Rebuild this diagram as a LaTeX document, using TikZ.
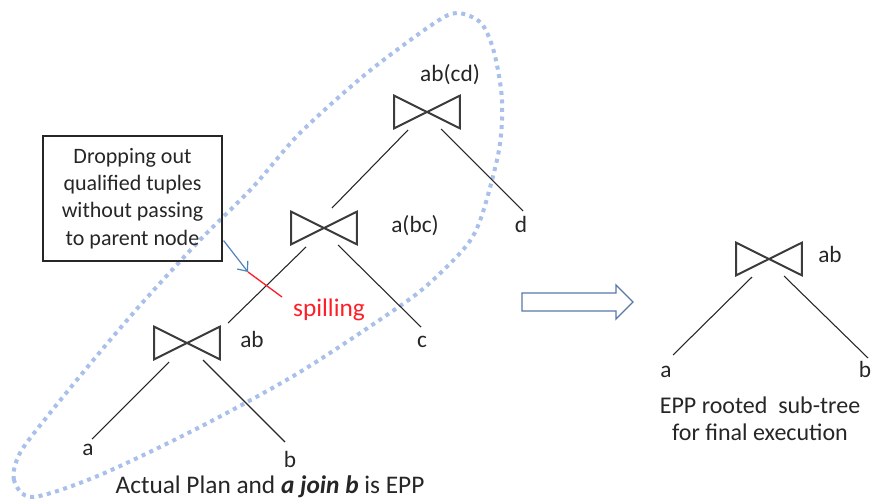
\documentclass[tikz,border=0pt]{standalone}
\usepackage{fontspec}
\setmainfont{Carlito}
\usepackage{tikz}
\usetikzlibrary{arrows.meta}
\definecolor{dotblue}{RGB}{168,192,234}
\definecolor{arrowblue}{RGB}{79,129,189}
\definecolor{blockblue}{RGB}{88,120,172}
\definecolor{spillred}{RGB}{255,30,40}
\definecolor{ink}{RGB}{38,38,38}
\newcommand{\lblfont}{\fontsize{17.5}{20}\selectfont}
\newcommand{\capfont}{\fontsize{18}{20.5}\selectfont}

\tikzset{
  joinop/.style={minimum width=48.75pt,minimum height=24pt,inner sep=0pt},
  bowtie/.style={draw=ink!90,line width=1.5pt,line join=miter},
  edge/.style={ink,line width=0.8pt},
  lbl/.style={anchor=base,inner sep=0pt,text=ink,font=\lblfont},
}

\begin{document}
\begin{tikzpicture}[x=0.75pt,y=-0.75pt]
    \useasboundingbox (0,0) rectangle (873,502);

    % the part of the plan that is EPP
    \draw[dotblue,line width=3pt,dash pattern=on 3pt off 3.4pt]
        plot[smooth cycle] coordinates {(33,497) (14,480) (20,453) (50,413)
        (100,352) (143,302) (200,240) (253,187) (300,133) (367,73) (433,24)
        (457,13) (481,23) (494,52) (502,100) (499,150) (482,215) (467,245)
        (433,280) (400,306) (300,372) (200,427) (100,475)};

    % join operators
    \node[joinop] (abcd) at (427,112) {};
    \node[joinop] (abc) at (324,228) {};
    \node[joinop] (abj) at (187,343) {};
    \node[joinop] (epp) at (769,259) {};
    \foreach \j in {abcd,abc,abj,epp}
        \draw[bowtie] (\j.north west) -- (\j.south east) -- (\j.north east) -- (\j.south west) -- cycle;

    % labels
    \node[lbl] (abcdlbl) at (450,82) {ab(cd)};
    \node[lbl] (abclbl) at (415,232) {a(bc)};
    \node[lbl] (abjlbl) at (252,347) {ab};
    \node[lbl] (epplbl) at (830,262) {ab};
    \node[lbl] (ld) at (521,232) {d};
    \node[lbl] (lc) at (422,347) {c};
    \node[lbl] (la) at (88,455) {a};
    \node[lbl] (lb) at (290,467) {b};
    \node[lbl] (ra) at (666,377) {a};
    \node[lbl] (rb) at (865,377) {b};

    % plan edges
    \draw[edge] ([shift={(-19,18)}]abcd.center) -- ([shift={(8,-20)}]abc.center);
    \draw[edge] ([shift={(14,17)}]abcd.center) -- ([shift={(2,-21)}]ld.base);
    \draw[edge] ([shift={(-18,19)}]abc.center) -- ([shift={(41,-20)}]abj.center);
    \draw[edge] ([shift={(14,17)}]abc.center) -- ([shift={(-1,-20)}]lc.base);
    \draw[edge] ([shift={(-18,19)}]abj.center) -- ([shift={(4,-16)}]la.base);
    \draw[edge] ([shift={(16,17)}]abj.center) -- ([shift={(-5,-25)}]lb.base);
    \draw[edge] ([shift={(-17,18)}]epp.center) -- ([shift={(7,-22)}]ra.base);
    \draw[edge] ([shift={(15,17)}]epp.center) -- ([shift={(3,-19)}]rb.base);

    % spilling
    \node[draw=ink,line width=0.9pt,align=center,inner sep=0pt,
        minimum width=134.25pt,minimum height=93.75pt,
        font=\fontsize{16.5}{20.5}\selectfont,text=ink] (note) at (132.5,198.5)
        {Dropping out\\qualified tuples\\without passing\\to parent node};
    \coordinate (spillA) at (248,272);
    \coordinate (spillB) at (282,297);
    \draw[arrowblue,line width=0.9pt,-{Straight Barb[length=6pt,width=10pt]}]
        ([shift={(1,-21)}]note.south east) -- (spillA);
    \draw[spillred,line width=1pt] (spillA) -- (spillB);
    \node[lbl,text=spillred,font=\fontsize{19}{21}\selectfont] (spill) at (329,316) {spilling};

    % to the sub-tree
    \draw[blockblue,line width=1pt,fill=white] (522,293) -- (616,293) -- (616,285)
        -- (633,302) -- (616,319) -- (616,311) -- (522,311) -- cycle;

    \node[lbl,font=\fontsize{19}{21}\selectfont] (plancap) at (270,493)
        {Actual Plan and \textbf{\textit{a join b}} is EPP};
    \node[align=center,inner sep=0pt,text=ink,font=\capfont] (eppcap) at (760,419)
        {EPP rooted\ \ sub-tree\\for final execution};
\end{tikzpicture}
\end{document}
